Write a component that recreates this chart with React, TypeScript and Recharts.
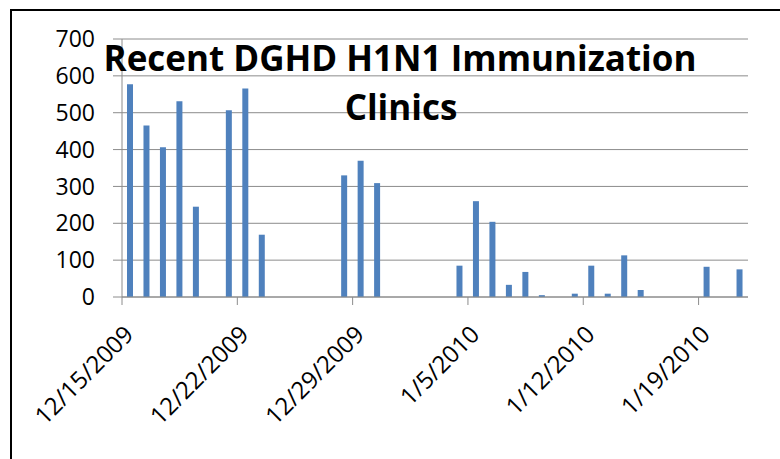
import { BarChart, Bar, XAxis, YAxis, CartesianGrid } from 'recharts';

const startDate = '12/15/2009';
const clinicDates = [
  '12/15/2009', '12/16/2009', '12/17/2009', '12/18/2009', '12/19/2009',
  '12/21/2009', '12/22/2009', '12/23/2009',
  '12/28/2009', '12/29/2009', '12/30/2009',
  '1/4/2010', '1/5/2010', '1/6/2010', '1/7/2010', '1/8/2010', '1/9/2010',
  '1/11/2010', '1/12/2010', '1/13/2010', '1/14/2010', '1/15/2010',
  '1/19/2010', '1/21/2010',
];
const immunized = [
  577, 465, 406, 531, 245,
  507, 566, 169,
  330, 370, 309,
  85, 260, 204, 33, 68, 5,
  9, 85, 9, 113, 19,
  82, 75,
];
const tickLabels = ['12/15/2009', '12/22/2009', '12/29/2009', '1/5/2010', '1/12/2010', '1/19/2010'];
const yTicks = [0, 100, 200, 300, 400, 500, 600, 700];
const titleLines = ['Recent DGHD H1N1 Immunization', 'Clinics'];

const DAY = 86400000;
const dayOf = (d: string) => Math.round((Date.parse(d) - Date.parse(startDate)) / DAY);

const data = clinicDates.map((d, i) => ({ day: dayOf(d) + 0.5, value: immunized[i] }));
const xTicks = tickLabels.map(dayOf);
const labelFor = (v: number) => tickLabels[xTicks.indexOf(v)] ?? '';

const FONT = '"Open Sans", sans-serif';
const GRID = '#8c8c8c';

function DateTick({ x, y, payload }: any) {
  // rotated date label, its end sits just right of and below the tick
  const ax = x + 13;
  const ay = y + 29;
  return (
    <text
      x={ax}
      y={ay}
      textAnchor="end"
      fontSize={24}
      fontFamily={FONT}
      fill="#000"
      transform={`rotate(-45, ${ax}, ${ay})`}
    >
      {labelFor(payload.value)}
    </text>
  );
}

export default function App() {
  return (
    <div style={{ position: 'absolute', left: 0, top: 0, width: 780, height: 459, background: '#fff' }}>
      <div
        style={{
          position: 'absolute', left: 10, top: 9, right: 0, bottom: 0,
          borderTop: '2px solid #000', borderLeft: '2px solid #000',
        }}
      />
      <BarChart
        width={780}
        height={459}
        data={data}
        margin={{ top: 39, right: 32, left: 0, bottom: 0 }}
        style={{ position: 'absolute', left: 0, top: 0 }}
      >
        <CartesianGrid vertical={false} stroke={GRID} strokeDasharray="" />
        <XAxis
          dataKey="day"
          type="number"
          domain={[0, 38]}
          ticks={xTicks}
          interval={0}
          height={162}
          stroke={GRID}
          tickSize={8}
          tick={<DateTick />}
        />
        <YAxis
          domain={[0, 700]}
          ticks={yTicks}
          interval={0}
          width={122}
          stroke={GRID}
          tickSize={9}
          tickMargin={18}
          tick={{ fill: '#000', fontSize: 23, fontFamily: FONT }}
        />
        <Bar dataKey="value" fill="#4f81bd" barSize={6} isAnimationActive={false} />
      </BarChart>
      <svg width={780} height={459} style={{ position: 'absolute', left: 0, top: 0, pointerEvents: 'none' }}>
        <text x={400} y={71} textAnchor="middle" fontSize={35} fontWeight="bold" fontFamily={FONT} fill="#000">
          {titleLines[0]}
        </text>
        <text x={401} y={120} textAnchor="middle" fontSize={35} fontWeight="bold" fontFamily={FONT} fill="#000">
          {titleLines[1]}
        </text>
      </svg>
    </div>
  );
}
